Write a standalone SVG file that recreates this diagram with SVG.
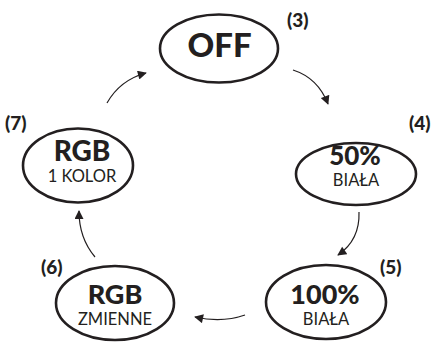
<svg xmlns="http://www.w3.org/2000/svg" width="435" height="344" viewBox="0 0 435 344">
<style>
.n{fill:#fff;stroke:#231f20;stroke-width:2.6}
.t{font-family:Lato,"Open Sans","Liberation Sans",sans-serif;fill:#231f20;text-anchor:middle}
.h{font-weight:900}
.s{font-weight:400}
.l{font-family:Lato,"Open Sans","Liberation Sans",sans-serif;fill:#231f20;font-weight:900;font-size:19px}
.c{fill:none;stroke:#231f20;stroke-width:1.2}
</style>
<defs>
<marker id="ah" viewBox="0 0 10 10" refX="9" refY="5" markerWidth="10" markerHeight="9" markerUnits="userSpaceOnUse" orient="auto">
<path d="M0,0 L10,5 L0,10 z" fill="#231f20"/>
</marker>
</defs>
<rect width="435" height="344" fill="#fff"/>
<g id="connectors">
<path class="c" d="M293,70 Q318,78 328,104" marker-end="url(#ah)"/>
<path class="c" d="M359,212 Q360,240 338,255" marker-end="url(#ah)"/>
<path class="c" d="M245,315 Q222,323 195,317" marker-end="url(#ah)"/>
<path class="c" d="M95,257 Q79,238 79,211" marker-end="url(#ah)"/>
<path class="c" d="M107,103 Q120,80 146,73" marker-end="url(#ah)"/>
</g>
<g id="off">
<ellipse class="n" cx="219" cy="48.5" rx="59" ry="34"/>
<text class="t h" x="219.5" y="57" font-size="33">OFF</text>
<text class="l" x="287" y="27">(3)</text>
</g>
<g id="white50">
<ellipse class="n" cx="356" cy="174" rx="60" ry="31"/>
<text class="t h" x="355" y="165" font-size="26">50%</text>
<text class="t s" x="356" y="186" font-size="16.5">BIAŁA</text>
<text class="l" x="409" y="130">(4)</text>
</g>
<g id="white100">
<ellipse class="n" cx="326" cy="302" rx="60" ry="37"/>
<text class="t h" x="325" y="304" font-size="27">100%</text>
<text class="t s" x="326" y="325" font-size="16.5">BIAŁA</text>
<text class="l" x="380" y="274">(5)</text>
</g>
<g id="rgbvar">
<ellipse class="n" cx="115" cy="303" rx="59" ry="37"/>
<text class="t h" x="115" y="304" font-size="27">RGB</text>
<text class="t s" x="115" y="325" font-size="16.5">ZMIENNE</text>
<text class="l" x="41" y="274">(6)</text>
</g>
<g id="rgb1">
<ellipse class="n" cx="78" cy="165.5" rx="55" ry="37"/>
<text class="t h" x="82" y="161" font-size="28">RGB</text>
<text class="t s" x="82" y="182" font-size="16.5">1 KOLOR</text>
<text class="l" x="5" y="130">(7)</text>
</g>
</svg>
